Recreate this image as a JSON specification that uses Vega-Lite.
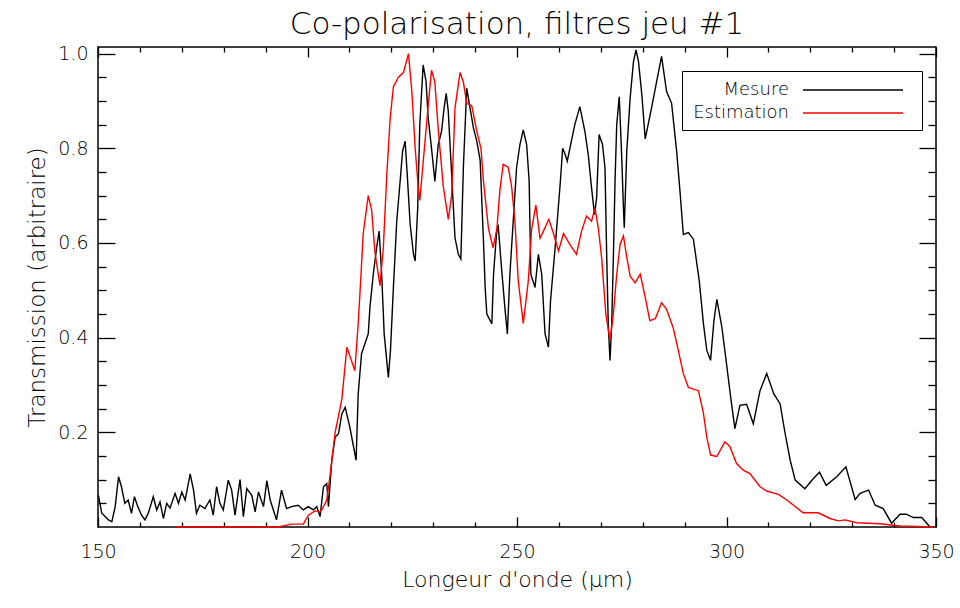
{
  "$schema": "https://vega.github.io/schema/vega-lite/v6.json",
  "width": 838,
  "height": 480,
  "autosize": {"type": "none"},
  "padding": {"left": 98, "top": 47, "right": 24, "bottom": 81},
  "background": "white",
  "title": {"text": "Co-polarisation, filtres jeu #1", "fontSize": 31, "font": "DejaVu Sans", "fontWeight": 200, "offset": 4, "color": "black"},
  "config": {
    "view": {"stroke": "black", "strokeWidth": 1.5},
    "axis": {"grid": false, "domain": false, "tickColor": "black", "tickWidth": 1.3, "labelColor": "black", "titleColor": "black", "labelFont": "DejaVu Sans", "titleFont": "DejaVu Sans", "labelFontSize": 19, "titleFontSize": 22, "labelFontWeight": 300, "titleFontWeight": 300, "labelFlush": false, "labelOverlap": false}
  },
  "data": {"values": [
    {"series":"Mesure","wl":150.1,"t":0.067},{"series":"Mesure","wl":150.9,"t":0.029},{"series":"Mesure","wl":151.7,"t":0.022},{"series":"Mesure","wl":152.5,"t":0.015},{"series":"Mesure","wl":153.3,"t":0.011},{"series":"Mesure","wl":154.1,"t":0.043},{"series":"Mesure","wl":154.9,"t":0.106},{"series":"Mesure","wl":155.6,"t":0.085},{"series":"Mesure","wl":156.4,"t":0.05},{"series":"Mesure","wl":157.2,"t":0.057},{"series":"Mesure","wl":158.0,"t":0.029},{"series":"Mesure","wl":158.7,"t":0.064},{"series":"Mesure","wl":159.5,"t":0.043},{"series":"Mesure","wl":160.4,"t":0.025},{"series":"Mesure","wl":161.2,"t":0.015},{"series":"Mesure","wl":162.0,"t":0.029},{"series":"Mesure","wl":163.2,"t":0.064},{"series":"Mesure","wl":164.0,"t":0.036},{"series":"Mesure","wl":164.8,"t":0.053},{"series":"Mesure","wl":165.6,"t":0.018},{"series":"Mesure","wl":166.4,"t":0.05},{"series":"Mesure","wl":167.2,"t":0.04},{"series":"Mesure","wl":168.4,"t":0.071},{"series":"Mesure","wl":169.2,"t":0.05},{"series":"Mesure","wl":170.0,"t":0.074},{"series":"Mesure","wl":170.8,"t":0.057},{"series":"Mesure","wl":172.0,"t":0.112},{"series":"Mesure","wl":172.8,"t":0.078},{"series":"Mesure","wl":173.5,"t":0.029},{"series":"Mesure","wl":174.3,"t":0.046},{"series":"Mesure","wl":175.5,"t":0.039},{"series":"Mesure","wl":176.7,"t":0.057},{"series":"Mesure","wl":177.5,"t":0.025},{"series":"Mesure","wl":178.3,"t":0.085},{"series":"Mesure","wl":179.1,"t":0.05},{"series":"Mesure","wl":179.9,"t":0.036},{"series":"Mesure","wl":181.1,"t":0.099},{"series":"Mesure","wl":181.9,"t":0.078},{"series":"Mesure","wl":182.7,"t":0.025},{"series":"Mesure","wl":183.9,"t":0.1},{"series":"Mesure","wl":184.7,"t":0.022},{"series":"Mesure","wl":185.5,"t":0.081},{"series":"Mesure","wl":186.7,"t":0.067},{"series":"Mesure","wl":187.5,"t":0.032},{"series":"Mesure","wl":188.3,"t":0.074},{"series":"Mesure","wl":189.5,"t":0.043},{"series":"Mesure","wl":190.3,"t":0.098},{"series":"Mesure","wl":191.1,"t":0.057},{"series":"Mesure","wl":192.6,"t":0.015},{"series":"Mesure","wl":193.8,"t":0.078},{"series":"Mesure","wl":195.0,"t":0.039},{"series":"Mesure","wl":196.2,"t":0.043},{"series":"Mesure","wl":197.8,"t":0.046},{"series":"Mesure","wl":199.0,"t":0.036},{"series":"Mesure","wl":200.2,"t":0.043},{"series":"Mesure","wl":201.4,"t":0.036},{"series":"Mesure","wl":202.2,"t":0.043},{"series":"Mesure","wl":203.0,"t":0.022},{"series":"Mesure","wl":203.8,"t":0.085},{"series":"Mesure","wl":204.6,"t":0.092},{"series":"Mesure","wl":205.0,"t":0.043},{"series":"Mesure","wl":205.8,"t":0.141},{"series":"Mesure","wl":206.6,"t":0.19},{"series":"Mesure","wl":207.4,"t":0.197},{"series":"Mesure","wl":208.2,"t":0.239},{"series":"Mesure","wl":209.0,"t":0.253},{"series":"Mesure","wl":210.1,"t":0.211},{"series":"Mesure","wl":211.0,"t":0.169},{"series":"Mesure","wl":211.6,"t":0.141},{"series":"Mesure","wl":212.1,"t":0.281},{"series":"Mesure","wl":212.9,"t":0.366},{"series":"Mesure","wl":213.7,"t":0.387},{"series":"Mesure","wl":214.5,"t":0.408},{"series":"Mesure","wl":214.9,"t":0.464},{"series":"Mesure","wl":215.7,"t":0.534},{"series":"Mesure","wl":216.5,"t":0.59},{"series":"Mesure","wl":217.1,"t":0.625},{"series":"Mesure","wl":217.7,"t":0.534},{"series":"Mesure","wl":218.3,"t":0.408},{"series":"Mesure","wl":219.3,"t":0.316},{"series":"Mesure","wl":219.8,"t":0.373},{"series":"Mesure","wl":220.5,"t":0.506},{"series":"Mesure","wl":221.3,"t":0.646},{"series":"Mesure","wl":222.1,"t":0.73},{"series":"Mesure","wl":222.7,"t":0.794},{"series":"Mesure","wl":223.3,"t":0.815},{"series":"Mesure","wl":223.8,"t":0.745},{"series":"Mesure","wl":224.5,"t":0.639},{"series":"Mesure","wl":225.3,"t":0.576},{"series":"Mesure","wl":225.7,"t":0.562},{"series":"Mesure","wl":226.3,"t":0.674},{"series":"Mesure","wl":226.8,"t":0.85},{"series":"Mesure","wl":227.6,"t":0.976},{"series":"Mesure","wl":228.3,"t":0.941},{"series":"Mesure","wl":228.8,"t":0.864},{"series":"Mesure","wl":229.6,"t":0.8},{"series":"Mesure","wl":230.4,"t":0.73},{"series":"Mesure","wl":231.2,"t":0.808},{"series":"Mesure","wl":232.0,"t":0.836},{"series":"Mesure","wl":232.6,"t":0.885},{"series":"Mesure","wl":233.1,"t":0.916},{"series":"Mesure","wl":233.6,"t":0.878},{"series":"Mesure","wl":234.4,"t":0.745},{"series":"Mesure","wl":235.2,"t":0.611},{"series":"Mesure","wl":236.0,"t":0.576},{"series":"Mesure","wl":236.6,"t":0.566},{"series":"Mesure","wl":237.2,"t":0.759},{"series":"Mesure","wl":238.0,"t":0.927},{"series":"Mesure","wl":238.8,"t":0.885},{"series":"Mesure","wl":239.6,"t":0.843},{"series":"Mesure","wl":240.4,"t":0.815},{"series":"Mesure","wl":241.2,"t":0.775},{"series":"Mesure","wl":242.0,"t":0.604},{"series":"Mesure","wl":242.4,"t":0.506},{"series":"Mesure","wl":242.8,"t":0.45},{"series":"Mesure","wl":244.0,"t":0.429},{"series":"Mesure","wl":244.4,"t":0.534},{"series":"Mesure","wl":245.1,"t":0.618},{"series":"Mesure","wl":245.5,"t":0.639},{"series":"Mesure","wl":246.3,"t":0.548},{"series":"Mesure","wl":247.1,"t":0.464},{"series":"Mesure","wl":247.7,"t":0.408},{"series":"Mesure","wl":248.3,"t":0.534},{"series":"Mesure","wl":249.1,"t":0.646},{"series":"Mesure","wl":249.9,"t":0.759},{"series":"Mesure","wl":250.7,"t":0.808},{"series":"Mesure","wl":251.5,"t":0.839},{"series":"Mesure","wl":252.3,"t":0.808},{"series":"Mesure","wl":252.9,"t":0.731},{"series":"Mesure","wl":253.3,"t":0.534},{"series":"Mesure","wl":254.3,"t":0.506},{"series":"Mesure","wl":255.1,"t":0.576},{"series":"Mesure","wl":255.9,"t":0.534},{"series":"Mesure","wl":256.7,"t":0.408},{"series":"Mesure","wl":257.5,"t":0.38},{"series":"Mesure","wl":258.0,"t":0.478},{"series":"Mesure","wl":259.1,"t":0.59},{"series":"Mesure","wl":260.3,"t":0.724},{"series":"Mesure","wl":260.9,"t":0.8},{"series":"Mesure","wl":261.5,"t":0.787},{"series":"Mesure","wl":262.0,"t":0.773},{"series":"Mesure","wl":262.8,"t":0.808},{"series":"Mesure","wl":263.8,"t":0.85},{"series":"Mesure","wl":265.0,"t":0.888},{"series":"Mesure","wl":266.2,"t":0.836},{"series":"Mesure","wl":267.0,"t":0.787},{"series":"Mesure","wl":267.8,"t":0.716},{"series":"Mesure","wl":268.5,"t":0.66},{"series":"Mesure","wl":269.0,"t":0.695},{"series":"Mesure","wl":269.6,"t":0.829},{"series":"Mesure","wl":270.4,"t":0.808},{"series":"Mesure","wl":271.0,"t":0.759},{"series":"Mesure","wl":271.4,"t":0.576},{"series":"Mesure","wl":271.8,"t":0.422},{"series":"Mesure","wl":272.2,"t":0.352},{"series":"Mesure","wl":272.6,"t":0.429},{"series":"Mesure","wl":273.0,"t":0.569},{"series":"Mesure","wl":273.4,"t":0.731},{"series":"Mesure","wl":273.8,"t":0.85},{"series":"Mesure","wl":274.4,"t":0.909},{"series":"Mesure","wl":275.0,"t":0.78},{"series":"Mesure","wl":275.4,"t":0.674},{"series":"Mesure","wl":275.6,"t":0.632},{"series":"Mesure","wl":276.2,"t":0.794},{"series":"Mesure","wl":277.0,"t":0.906},{"series":"Mesure","wl":277.8,"t":0.983},{"series":"Mesure","wl":278.4,"t":1.008},{"series":"Mesure","wl":279.0,"t":0.983},{"series":"Mesure","wl":279.8,"t":0.913},{"series":"Mesure","wl":280.6,"t":0.82},{"series":"Mesure","wl":282.1,"t":0.885},{"series":"Mesure","wl":284.5,"t":0.994},{"series":"Mesure","wl":285.7,"t":0.92},{"series":"Mesure","wl":286.9,"t":0.895},{"series":"Mesure","wl":288.1,"t":0.794},{"series":"Mesure","wl":288.9,"t":0.709},{"series":"Mesure","wl":289.7,"t":0.618},{"series":"Mesure","wl":290.9,"t":0.622},{"series":"Mesure","wl":292.1,"t":0.608},{"series":"Mesure","wl":293.5,"t":0.52},{"series":"Mesure","wl":294.5,"t":0.429},{"series":"Mesure","wl":295.3,"t":0.373},{"series":"Mesure","wl":296.2,"t":0.352},{"series":"Mesure","wl":297.0,"t":0.436},{"series":"Mesure","wl":297.7,"t":0.481},{"series":"Mesure","wl":298.9,"t":0.422},{"series":"Mesure","wl":300.0,"t":0.345},{"series":"Mesure","wl":301.0,"t":0.274},{"series":"Mesure","wl":302.0,"t":0.208},{"series":"Mesure","wl":303.2,"t":0.257},{"series":"Mesure","wl":304.8,"t":0.259},{"series":"Mesure","wl":306.4,"t":0.218},{"series":"Mesure","wl":308.0,"t":0.288},{"series":"Mesure","wl":309.6,"t":0.324},{"series":"Mesure","wl":311.3,"t":0.281},{"series":"Mesure","wl":312.8,"t":0.26},{"series":"Mesure","wl":314.0,"t":0.197},{"series":"Mesure","wl":315.2,"t":0.141},{"series":"Mesure","wl":316.4,"t":0.099},{"series":"Mesure","wl":318.7,"t":0.081},{"series":"Mesure","wl":320.7,"t":0.102},{"series":"Mesure","wl":322.2,"t":0.116},{"series":"Mesure","wl":323.8,"t":0.088},{"series":"Mesure","wl":326.3,"t":0.106},{"series":"Mesure","wl":328.5,"t":0.127},{"series":"Mesure","wl":330.7,"t":0.058},{"series":"Mesure","wl":331.9,"t":0.071},{"series":"Mesure","wl":333.9,"t":0.078},{"series":"Mesure","wl":335.5,"t":0.046},{"series":"Mesure","wl":337.4,"t":0.039},{"series":"Mesure","wl":339.4,"t":0.008},{"series":"Mesure","wl":341.4,"t":0.027},{"series":"Mesure","wl":342.9,"t":0.027},{"series":"Mesure","wl":344.6,"t":0.02},{"series":"Mesure","wl":346.6,"t":0.02},{"series":"Mesure","wl":347.8,"t":0.008},{"series":"Mesure","wl":348.6,"t":0.0},
    {"series":"Estimation","wl":168.4,"t":0.0},{"series":"Estimation","wl":193.0,"t":0.0},{"series":"Estimation","wl":196.2,"t":0.006},{"series":"Estimation","wl":199.0,"t":0.006},{"series":"Estimation","wl":200.2,"t":0.025},{"series":"Estimation","wl":201.8,"t":0.034},{"series":"Estimation","wl":203.0,"t":0.032},{"series":"Estimation","wl":203.4,"t":0.036},{"series":"Estimation","wl":204.6,"t":0.057},{"series":"Estimation","wl":205.4,"t":0.11},{"series":"Estimation","wl":206.6,"t":0.2},{"series":"Estimation","wl":208.2,"t":0.27},{"series":"Estimation","wl":209.4,"t":0.38},{"series":"Estimation","wl":211.3,"t":0.33},{"series":"Estimation","wl":212.1,"t":0.43},{"series":"Estimation","wl":212.5,"t":0.49},{"series":"Estimation","wl":213.3,"t":0.62},{"series":"Estimation","wl":214.5,"t":0.7},{"series":"Estimation","wl":215.3,"t":0.67},{"series":"Estimation","wl":216.1,"t":0.58},{"series":"Estimation","wl":217.3,"t":0.51},{"series":"Estimation","wl":218.1,"t":0.59},{"series":"Estimation","wl":218.9,"t":0.74},{"series":"Estimation","wl":219.7,"t":0.86},{"series":"Estimation","wl":220.5,"t":0.93},{"series":"Estimation","wl":221.7,"t":0.95},{"series":"Estimation","wl":222.9,"t":0.96},{"series":"Estimation","wl":224.1,"t":1.0},{"series":"Estimation","wl":224.9,"t":0.92},{"series":"Estimation","wl":225.7,"t":0.8},{"series":"Estimation","wl":226.4,"t":0.72},{"series":"Estimation","wl":226.8,"t":0.69},{"series":"Estimation","wl":227.6,"t":0.77},{"series":"Estimation","wl":228.8,"t":0.89},{"series":"Estimation","wl":229.6,"t":0.965},{"series":"Estimation","wl":230.4,"t":0.94},{"series":"Estimation","wl":231.2,"t":0.84},{"series":"Estimation","wl":232.4,"t":0.72},{"series":"Estimation","wl":233.6,"t":0.65},{"series":"Estimation","wl":234.4,"t":0.7},{"series":"Estimation","wl":235.2,"t":0.885},{"series":"Estimation","wl":236.4,"t":0.96},{"series":"Estimation","wl":237.2,"t":0.94},{"series":"Estimation","wl":238.0,"t":0.895},{"series":"Estimation","wl":239.2,"t":0.89},{"series":"Estimation","wl":240.4,"t":0.836},{"series":"Estimation","wl":241.4,"t":0.8},{"series":"Estimation","wl":242.0,"t":0.73},{"series":"Estimation","wl":243.2,"t":0.63},{"series":"Estimation","wl":244.3,"t":0.59},{"series":"Estimation","wl":245.2,"t":0.63},{"series":"Estimation","wl":245.9,"t":0.71},{"series":"Estimation","wl":246.7,"t":0.766},{"series":"Estimation","wl":247.9,"t":0.76},{"series":"Estimation","wl":248.7,"t":0.72},{"series":"Estimation","wl":249.5,"t":0.646},{"series":"Estimation","wl":250.3,"t":0.52},{"series":"Estimation","wl":251.5,"t":0.43},{"series":"Estimation","wl":252.7,"t":0.52},{"series":"Estimation","wl":253.5,"t":0.63},{"series":"Estimation","wl":254.5,"t":0.68},{"series":"Estimation","wl":255.5,"t":0.61},{"series":"Estimation","wl":256.3,"t":0.625},{"series":"Estimation","wl":257.6,"t":0.65},{"series":"Estimation","wl":258.7,"t":0.62},{"series":"Estimation","wl":259.9,"t":0.583},{"series":"Estimation","wl":261.1,"t":0.62},{"series":"Estimation","wl":262.6,"t":0.597},{"series":"Estimation","wl":264.2,"t":0.576},{"series":"Estimation","wl":265.4,"t":0.625},{"series":"Estimation","wl":266.6,"t":0.657},{"series":"Estimation","wl":267.8,"t":0.646},{"series":"Estimation","wl":268.6,"t":0.674},{"series":"Estimation","wl":269.4,"t":0.632},{"series":"Estimation","wl":270.2,"t":0.569},{"series":"Estimation","wl":271.2,"t":0.45},{"series":"Estimation","wl":272.2,"t":0.394},{"series":"Estimation","wl":273.0,"t":0.45},{"series":"Estimation","wl":273.8,"t":0.534},{"series":"Estimation","wl":274.6,"t":0.597},{"series":"Estimation","wl":275.4,"t":0.615},{"series":"Estimation","wl":276.2,"t":0.57},{"series":"Estimation","wl":277.0,"t":0.53},{"series":"Estimation","wl":278.2,"t":0.516},{"series":"Estimation","wl":279.4,"t":0.534},{"series":"Estimation","wl":280.5,"t":0.49},{"series":"Estimation","wl":281.7,"t":0.436},{"series":"Estimation","wl":283.0,"t":0.44},{"series":"Estimation","wl":284.5,"t":0.474},{"series":"Estimation","wl":285.7,"t":0.46},{"series":"Estimation","wl":287.3,"t":0.42},{"series":"Estimation","wl":288.5,"t":0.373},{"series":"Estimation","wl":289.7,"t":0.324},{"series":"Estimation","wl":290.9,"t":0.295},{"series":"Estimation","wl":293.3,"t":0.288},{"series":"Estimation","wl":294.5,"t":0.24},{"series":"Estimation","wl":295.3,"t":0.19},{"series":"Estimation","wl":296.2,"t":0.152},{"series":"Estimation","wl":297.7,"t":0.149},{"series":"Estimation","wl":299.6,"t":0.18},{"series":"Estimation","wl":300.8,"t":0.17},{"series":"Estimation","wl":302.4,"t":0.134},{"series":"Estimation","wl":304.0,"t":0.12},{"series":"Estimation","wl":305.6,"t":0.113},{"series":"Estimation","wl":308.0,"t":0.085},{"series":"Estimation","wl":309.6,"t":0.076},{"series":"Estimation","wl":312.4,"t":0.069},{"series":"Estimation","wl":314.4,"t":0.057},{"series":"Estimation","wl":318.3,"t":0.03},{"series":"Estimation","wl":321.9,"t":0.03},{"series":"Estimation","wl":324.7,"t":0.018},{"series":"Estimation","wl":326.7,"t":0.013},{"series":"Estimation","wl":328.3,"t":0.015},{"series":"Estimation","wl":331.1,"t":0.009},{"series":"Estimation","wl":336.6,"t":0.007},{"series":"Estimation","wl":341.4,"t":0.002},{"series":"Estimation","wl":349.3,"t":0.0}
  ]},
  "layer": [
    {
      "mark": {"type": "line", "strokeWidth": 1.4},
      "encoding": {
        "x": {"field": "wl", "type": "quantitative", "scale": {"domain": [150, 350], "nice": false, "zero": false},
              "axis": {"orient": "bottom", "values": [150, 200, 250, 300, 350], "tickSize": -10, "labelPadding": 25, "title": "Longeur d'onde (µm)", "titlePadding": 8}},
        "y": {"field": "t", "type": "quantitative", "scale": {"domain": [0, 1.014], "nice": false},
              "axis": {"orient": "left", "values": [0.2, 0.4, 0.6, 0.8, 1.0], "format": ".1f", "tickSize": -17, "labelPadding": 27, "title": "Transmission (arbitraire)", "titleFontSize": 23, "titlePadding": 8}},
        "color": {"field": "series", "type": "nominal", "scale": {"domain": ["Mesure", "Estimation"], "range": ["black", "#ff0000"]},
                  "legend": {"title": null, "orient": "none", "legendX": 584, "legendY": 24, "direction": "vertical", "symbolType": "M10.2,0H20.2M21.0,0", "symbolSize": 400, "symbolStrokeWidth": 1.5, "labelAlign": "right", "labelOffset": 77, "labelFont": "DejaVu Sans", "labelFontWeight": 300, "labelFontSize": 18, "labelColor": "black", "fillColor": "white", "strokeColor": "black", "padding": 8, "rowPadding": 3}}
      }
    },
    {
      "mark": {"type": "point", "opacity": 0},
      "encoding": {
        "x": {"field": "wl", "type": "quantitative", "axis": {"orient": "bottom", "values": [160,170,180,190,210,220,230,240,260,270,280,290,310,320,330,340], "tickSize": -5, "labels": false, "title": null}},
        "y": {"field": "t", "type": "quantitative", "axis": {"orient": "left", "values": [0.05,0.1,0.15,0.25,0.3,0.35,0.45,0.5,0.55,0.65,0.7,0.75,0.85,0.9,0.95], "tickSize": -8, "labels": false, "title": null}}
      }
    },
    {
      "mark": {"type": "point", "opacity": 0},
      "encoding": {
        "x": {"field": "wl", "type": "quantitative", "axis": {"orient": "top", "values": [150, 200, 250, 300, 350], "tickSize": -10, "labels": false, "title": null}},
        "y": {"field": "t", "type": "quantitative", "axis": {"orient": "right", "values": [0.2, 0.4, 0.6, 0.8, 1.0], "tickSize": -17, "labels": false, "title": null}}
      }
    },
    {
      "mark": {"type": "point", "opacity": 0},
      "encoding": {
        "x": {"field": "wl", "type": "quantitative", "axis": {"orient": "top", "values": [160,170,180,190,210,220,230,240,260,270,280,290,310,320,330,340], "tickSize": -5, "labels": false, "title": null}},
        "y": {"field": "t", "type": "quantitative", "axis": {"orient": "right", "values": [0.05,0.1,0.15,0.25,0.3,0.35,0.45,0.5,0.55,0.65,0.7,0.75,0.85,0.9,0.95], "tickSize": -8, "labels": false, "title": null}}
      }
    }
  ],
  "resolve": {"axis": {"x": "independent", "y": "independent"}}
}
